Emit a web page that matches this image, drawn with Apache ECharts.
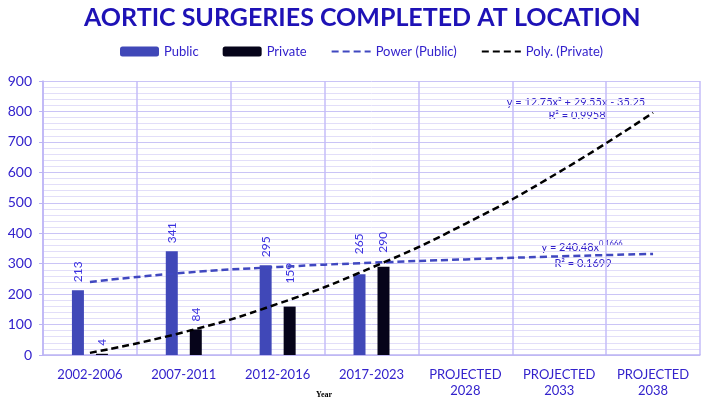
<!DOCTYPE html>
<html>
<head>
<meta charset="utf-8">
<script src="https://cdn.jsdelivr.net/npm/echarts@6/dist/echarts.min.js"></script>
<style>
  html, body { margin: 0; padding: 0; background: #fff; }
  #chart { width: 702px; height: 402px; }
</style>
</head>
<body>
<div id="chart"></div>
<script>
  // 数据
  var categories = ['2002-2006', '2007-2011', '2012-2016', '2017-2023', 'PROJECTED\n2028', 'PROJECTED\n2033', 'PROJECTED\n2038'];
  var publicData = [213, 341, 295, 265, null, null, null];
  var privateData = [4, 84, 159, 290, null, null, null];
  // trend lines at each category
  var powerPublic = [240, 270, 289, 303, 314, 324, 332];
  var polyPrivate = [7, 75, 168, 287, 431, 601, 796];
  var yTicks = [0, 900, 100];

  var blueText = '#3322cc';
  var font = 'Lato';

  var myChart = echarts.init(document.getElementById('chart'));

  var barLabel = {
    show: true,
    position: 'top',
    rotate: 90,
    align: 'left',
    verticalAlign: 'middle',
    distance: 8,
    color: '#3a30e0',
    fontFamily: font,
    fontSize: 12
  };

  // some labels sit a little higher above their bar
  var liftPublic = { 3: 12 };
  var liftPrivate = { 2: 15, 3: 6 };

  function withLift(values, lift) {
    return values.map(function (v, i) {
      return lift[i] ? { value: v, label: { distance: 8 + lift[i] } } : v;
    });
  }

  var option = {
    animation: false,
    title: {
      text: 'AORTIC SURGERIES COMPLETED AT LOCATION',
      left: 79,
      top: 0,
      textStyle: {
        color: '#1e12b6',
        fontFamily: font,
        fontWeight: 'bold',
        fontSize: 25
      }
    },
    legend: {
      left: 115,
      top: 40,
      itemWidth: 39,
      itemHeight: 10,
      itemGap: 24,
      textStyle: { color: blueText, fontFamily: font, fontSize: 13 },
      data: [
        'Public',
        'Private',
        { name: 'Power (Public)', itemStyle: { opacity: 0 } },
        { name: 'Poly. (Private)', itemStyle: { opacity: 0 } }
      ]
    },
    grid: {
      left: 43,
      right: 2,
      top: 81,
      bottom: 47,
      outerBoundsMode: 'none'
    },
    xAxis: {
      type: 'category',
      data: categories,
      axisLine: { lineStyle: { color: '#bcb4f4', width: 1.5 } },
      axisTick: { show: false },
      splitLine: { show: true, lineStyle: { color: '#c4bcf8', width: 1.5 } },
      axisLabel: {
        color: blueText,
        fontFamily: font,
        fontSize: 13,
        margin: 12,
        lineHeight: 16,
        interval: 0
      }
    },
    yAxis: {
      type: 'value',
      min: yTicks[0],
      max: yTicks[1],
      interval: yTicks[2],
      name: 'Number of Aortic surgeries',
      nameLocation: 'middle',
      nameGap: 38,
      nameTextStyle: { color: '#000', fontFamily: 'Liberation Serif', fontWeight: 'bold', fontSize: 8.5 },
      axisLine: { show: true, lineStyle: { color: '#bcb4f4', width: 1.5 } },
      axisTick: { show: true, length: 4, lineStyle: { color: '#bcb4f4' } },
      axisLabel: { color: blueText, fontFamily: font, fontSize: 14, margin: 11 },
      splitLine: { lineStyle: { color: '#cac4f6', width: 1 } },
      minorTick: { show: false, splitNumber: 5 },
      minorSplitLine: { show: true, lineStyle: { color: '#e2def9', width: 1 } }
    },
    graphic: [
      { type: 'text', left: 316, top: 391, style: { text: 'Year', fill: '#000', font: 'bold 8px "Liberation Serif"' } },
      {
        type: 'text', x: 576, y: 102,
        style: {
          text: 'y = 12.75x² + 29.55x - 35.25', fill: blueText,
          font: '11px Lato', align: 'center', verticalAlign: 'middle'
        }
      },
      {
        type: 'text', x: 577, y: 115,
        style: { text: 'R² = 0.9958', fill: blueText, font: '11px Lato', align: 'center', verticalAlign: 'middle' }
      },
      {
        type: 'text', x: 582, y: 247,
        style: {
          text: '{a|y = 240.48x}{b|0.1666}', fill: blueText, align: 'center', verticalAlign: 'middle',
          rich: {
            a: { fontFamily: 'Lato', fontSize: 11, fill: blueText },
            b: { fontFamily: 'Lato', fontSize: 7.5, fill: blueText, padding: [0, 0, 7, 0] }
          }
        }
      },
      {
        type: 'text', x: 583, y: 263,
        style: { text: 'R² = 0.1699', fill: blueText, font: '11px Lato', align: 'center', verticalAlign: 'middle' }
      }
    ],
    series: [
      {
        name: 'Public',
        type: 'bar',
        data: withLift(publicData, liftPublic),
        barWidth: 12,
        barGap: '100%',
        itemStyle: { color: '#4048b8' },
        label: barLabel
      },
      {
        name: 'Private',
        type: 'bar',
        data: withLift(privateData, liftPrivate),
        barWidth: 12,
        itemStyle: { color: '#06041a' },
        label: barLabel
      },
      {
        name: 'Power (Public)',
        type: 'line',
        data: powerPublic,
        smooth: true,
        symbol: 'none',
        z: 5,
        itemStyle: { color: '#4048c0' },
        lineStyle: { color: '#4048c0', width: 2.5, type: [7, 4] }
      },
      {
        name: 'Poly. (Private)',
        type: 'line',
        data: polyPrivate,
        smooth: true,
        symbol: 'none',
        z: 5,
        itemStyle: { color: '#000' },
        lineStyle: { color: '#000', width: 2.5, type: [7, 4] }
      }
    ]
  };

  myChart.setOption(option);
</script>
</body>
</html>
